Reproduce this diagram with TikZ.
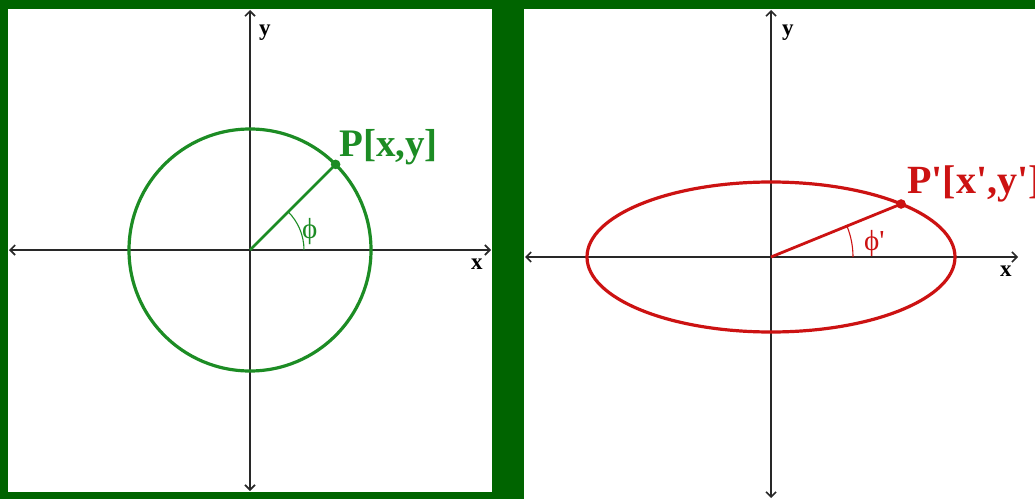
\documentclass[tikz,border=0pt]{standalone}
\usepackage{fontspec}
\setmainfont{Liberation Serif}
\usetikzlibrary{arrows.meta,calc}
\definecolor{bg}{RGB}{0,100,0}
\definecolor{cgreen}{RGB}{28,140,36}
\definecolor{cred}{RGB}{204,18,18}
\definecolor{axiscol}{RGB}{40,40,40}
\newcommand{\sq}{\textquotesingle}
\begin{document}
\begin{tikzpicture}[x=1pt,y=1pt,
  axisline/.style={draw=axiscol,line width=1.8pt,{Straight Barb[length=5pt,width=10pt,line width=1.6pt]}-{Straight Barb[length=5pt,width=10pt,line width=1.6pt]}},
  axlabel/.style={inner sep=0pt,anchor=base west,font=\fontsize{23}{23}\selectfont\bfseries,text=black},
  ptlabel/.style={inner sep=0pt,anchor=base west,font=\bfseries},
  anglabel/.style={inner sep=0pt,anchor=base west,font=\fontsize{29}{29}\selectfont}]
\useasboundingbox (0,0) rectangle (1035,499);
\fill[bg] (0,0) rectangle (1035,499);
\fill[white] (8,7) rectangle (492,490);
\fill[white] (524,0) rectangle (1035,490);
% left panel
\coordinate (O1) at (250,249);
\coordinate (L1w) at (9,249);
\coordinate (L1e) at (491,249);
\coordinate (L1n) at (250,489);
\coordinate (L1s) at (250,8);
\coordinate (A1) at (304,249);
\draw[axisline] (L1w) -- (L1e);
\draw[axisline] (L1s) -- (L1n);
\draw[cgreen,line width=3.2pt] (O1) circle (121pt);
\coordinate (P) at (335.6,334.6);
\draw[cgreen,line width=2.8pt] (O1) -- (P);
\fill[cgreen] (P) circle (4.8pt);
\draw[cgreen,line width=1.1pt] (A1) arc[start angle=0,end angle=45,radius=54pt];
\node[ptlabel,text=cgreen,font=\fontsize{39}{39}\selectfont\bfseries] (Plab) at (339,343) {P[x,y]};
\node[anglabel,text=cgreen] (phi) at (302,261) {ϕ};
\node[axlabel] (ylab1) at (259,463) {y};
\node[axlabel] (xlab1) at (471,230) {x};
% right panel
\coordinate (O2) at (771,242);
\coordinate (L2w) at (525,242);
\coordinate (L2e) at (1018,242);
\coordinate (L2n) at (771,489);
\coordinate (L2s) at (771,1);
\coordinate (A2) at (853,242);
\draw[axisline] (L2w) -- (L2e);
\draw[axisline] (L2s) -- (L2n);
\draw[cred,line width=3.2pt] (O2) ellipse [x radius=184pt,y radius=75pt];
\coordinate (Q) at (901.1,295);
\draw[cred,line width=2.8pt] (O2) -- (Q);
\fill[cred] (Q) circle (4.8pt);
\draw[cred,line width=1.1pt] (A2) arc[start angle=0,end angle=22.2,radius=82pt];
\node[ptlabel,text=cred,font=\fontsize{40}{40}\selectfont\bfseries] (Qlab) at (907,306) {P\sq[x\sq,y\sq]};
\node[anglabel,text=cred] (phip) at (864,249) {ϕ\sq};
\node[axlabel] (ylab2) at (782,463) {y};
\node[axlabel] (xlab2) at (1000,223) {x};
\end{tikzpicture}
\end{document}
